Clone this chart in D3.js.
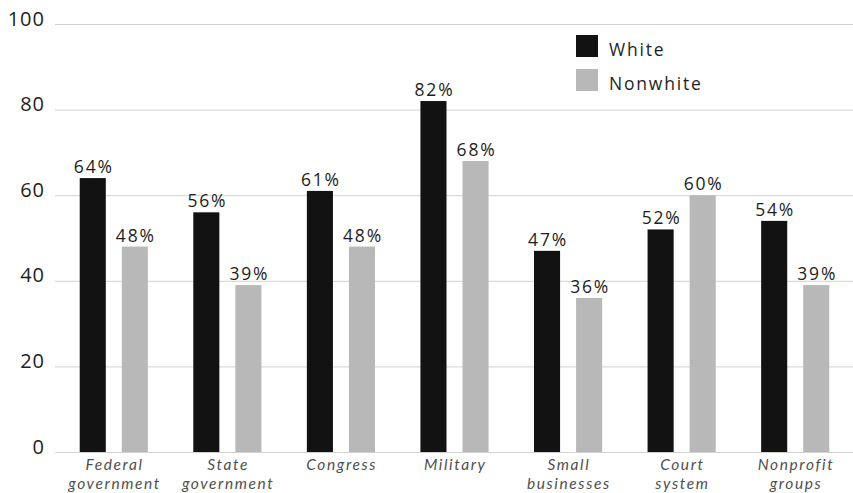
<!DOCTYPE html>
<html>
<head>
<meta charset="utf-8">
<script src="https://cdn.jsdelivr.net/npm/d3@7"></script>
<style>
  html, body { margin: 0; padding: 0; background: #fff; }
  svg { display: block; font-family: "Open Sans", "Noto Sans", sans-serif; }
</style>
</head>
<body>
<svg id="chart" width="853" height="493"></svg>
<script>
// Share of respondents expressing confidence, by institution
const categories = [
  ["Federal", "government"],
  ["State", "government"],
  ["Congress"],
  ["Military"],
  ["Small", "businesses"],
  ["Court", "system"],
  ["Nonprofit", "groups"]
];
const seriesNames = ["White", "Nonwhite"];
const whiteValues = [64, 56, 61, 82, 47, 52, 54];
const nonwhiteValues = [48, 39, 48, 68, 36, 60, 39];
const yTicks = [0, 20, 40, 60, 80, 100];
const seriesColors = ["#121212", "#b8b8b8"];

const svg = d3.select("#chart");
const W = 853, H = 493;

const y = d3.scaleLinear().domain([0, 100]).range([452, 24]);

const x = d3.scaleBand()
  .domain(d3.range(categories.length))
  .range([57, 852])
  .paddingInner(0.4)
  .paddingOuter(0.2);

const xSub = d3.scaleBand()
  .domain(seriesNames)
  .range([0, x.bandwidth()])
  .paddingInner(0.38)
  .paddingOuter(0);

// Y axis labels and horizontal gridlines
const yAxis = d3.axisLeft(y).tickValues(yTicks).tickSize(0).tickPadding(0);
const gAxis = svg.append("g").attr("transform", "translate(55,0)").call(yAxis);
gAxis.select(".domain").remove();
gAxis.selectAll(".tick text")
  .attr("x", -10)
  .attr("dy", "0.35em")
  .attr("transform", "translate(0,-6)")
  .attr("fill", "#1e1e1e")
  .style("font-size", "20px")
  .style("letter-spacing", "1px")
  .style("font-family", "'Open Sans', 'Noto Sans', sans-serif");
gAxis.selectAll(".tick")
  .append("line")
  .attr("x1", 0)
  .attr("x2", W - 55)
  .attr("stroke", "#d2d2d2")
  .attr("stroke-width", 1);

// Bars
const rows = categories.map((c, i) => ({
  i,
  values: [
    { key: "White", v: whiteValues[i] },
    { key: "Nonwhite", v: nonwhiteValues[i] }
  ]
}));

const groups = svg.append("g").selectAll("g")
  .data(rows)
  .join("g")
  .attr("transform", d => `translate(${x(d.i)},0)`);

groups.selectAll("rect")
  .data(d => d.values)
  .join("rect")
  .attr("x", d => xSub(d.key))
  .attr("y", d => y(d.v))
  .attr("width", xSub.bandwidth())
  .attr("height", d => y(0) - y(d.v))
  .attr("fill", (d, j) => seriesColors[j]);

groups.selectAll("text.val")
  .data(d => d.values)
  .join("text")
  .attr("class", "val")
  .attr("x", d => xSub(d.key) + xSub.bandwidth() / 2 + 1)
  .attr("y", d => y(d.v) - 5)
  .attr("text-anchor", "middle")
  .attr("fill", "#1e1e1e")
  .style("font-size", "17.5px")
  .style("letter-spacing", "1.8px")
  .text(d => d.v + "%");

// Category labels, one text per line
const labelLines = categories.flatMap((lines, i) =>
  lines.map((t, k) => ({ i, k, t })));
svg.append("g").selectAll("text")
  .data(labelLines)
  .join("text")
  .attr("x", d => x(d.i) + x.bandwidth() / 2 + 0.8)
  .attr("y", d => 470 + d.k * 18.5)
  .attr("text-anchor", "middle")
  .attr("fill", "#505050")
  .style("font-family", "Lato, 'Open Sans', sans-serif")
  .style("font-size", "15.5px")
  .style("letter-spacing", "1.6px")
  .style("font-style", "italic")
  .text(d => d.t);

// Legend
const legend = svg.append("g").attr("transform", "translate(576,35)");
seriesNames.forEach((name, k) => {
  const g = legend.append("g").attr("transform", `translate(0,${k * 34})`);
  g.append("rect").attr("width", 22).attr("height", 22).attr("fill", seriesColors[k]);
  g.append("text")
    .attr("x", 33)
    .attr("y", 21)
    .attr("fill", "#1e1e1e")
    .style("font-size", "17.5px")
    .style("letter-spacing", "1.8px")
    .text(name);
});
</script>
</body>
</html>
